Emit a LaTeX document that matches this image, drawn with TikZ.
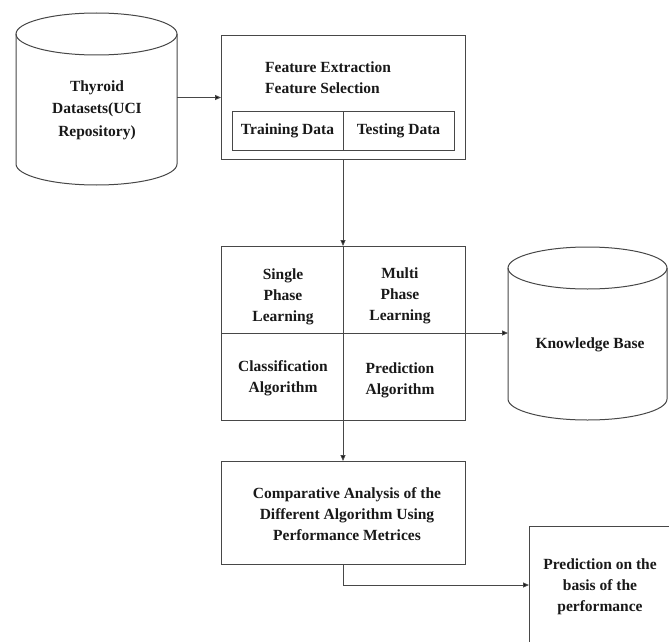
\documentclass[tikz,border=0pt]{standalone}
\usepackage{fontspec}
\setmainfont{Liberation Serif}
\usetikzlibrary{arrows.meta}
\begin{document}
\begin{tikzpicture}[x=1pt,y=-1pt,
  line/.style={draw=black!72, line width=1pt},
  arr/.style={line, -{Triangle[length=6pt,width=5pt,fill=black]}},
  lbl/.style={font=\fontsize{15.5}{21}\selectfont\bfseries, align=center, inner sep=0pt, text=black!90},
  boxn/.style={line, rectangle, anchor=north west, inner sep=0pt, outer sep=0pt},
  ghost/.style={rectangle, inner sep=0pt, outer sep=0pt, draw=none}]
\useasboundingbox (0,0) rectangle (669,642);
\clip (0,0) rectangle (669,642);
\fill[white] (0,0) rectangle (669,642);

% Cylinder 1: Thyroid datasets
\node[ghost, minimum width=161pt, minimum height=172pt] (ds) at (96.5,99) {};
\draw[line] (96.5,34) ellipse [x radius=80.5pt, y radius=21pt];
\draw[line] (16,34) -- (16,164) arc[start angle=180, end angle=360, x radius=80.5pt, y radius=21pt] -- (177,34);
\node[lbl, font=\fontsize{15.5}{22.5}\selectfont\bfseries] (dst) at (97,110) {Thyroid\\Datasets(UCI\\Repository)};

% Box 1
\node[boxn, minimum width=244pt, minimum height=123pt] (b1) at (221,36) {};
\node[lbl, anchor=west] (fe1) at (265,67) {Feature Extraction};
\node[lbl, anchor=west] (fe2) at (265,88) {Feature Selection};
\node[boxn, minimum width=111pt, minimum height=39pt] (tr) at (232,111) {};
\node[boxn, minimum width=111pt, minimum height=39pt] (te) at (343,111) {};
\node[lbl] (trt) at (287.5,130.5) {Training Data};
\node[lbl] (tet) at (398.5,130.5) {Testing Data};

% Box 2
\node[boxn, minimum width=244pt, minimum height=174pt] (b2) at (221,246) {};
\draw[line] (b2.north) -- (b2.south);
\node[lbl] (q1) at (283,297) {Single\\Phase\\Learning};
\node[lbl] (q2) at (400,296) {Multi\\Phase\\Learning};
\node[lbl] (q3) at (283,378) {Classification\\Algorithm};
\node[lbl] (q4) at (400,380) {Prediction\\Algorithm};

% Cylinder 2: Knowledge base
\node[ghost, minimum width=159pt, minimum height=173pt] (kb) at (587.5,333.5) {};
\draw[line] (587.5,268) ellipse [x radius=79.5pt, y radius=21pt];
\draw[line] (508,268) -- (508,399) arc[start angle=180, end angle=360, x radius=79.5pt, y radius=21pt] -- (667,268);
\node[lbl] (kbt) at (590,345) {Knowledge Base};

% Box 3
\node[boxn, minimum width=244pt, minimum height=103pt] (b3) at (221,461) {};
\node[lbl] (b3t) at (347,514) {Comparative Analysis of the\\Different Algorithm Using\\Performance Metrices};

% Box 4 (cut by the picture edge)
\node[boxn, minimum width=160pt, minimum height=118pt] (b4) at (529,526) {};
\node[lbl] (b4t) at (600,587) {Prediction on the\\basis of the\\performance};

% Connectors
\draw[arr] (ds.east |- b1.west) -- (b1.west);
\draw[arr] (b1.south) -- (b2.north);
\draw[arr] (b2.west) -- (kb.west |- b2.west);
\draw[arr] (b2.south) -- (b3.north);
\draw[arr] (b3.south) |- (b4.west);
\end{tikzpicture}
\end{document}
